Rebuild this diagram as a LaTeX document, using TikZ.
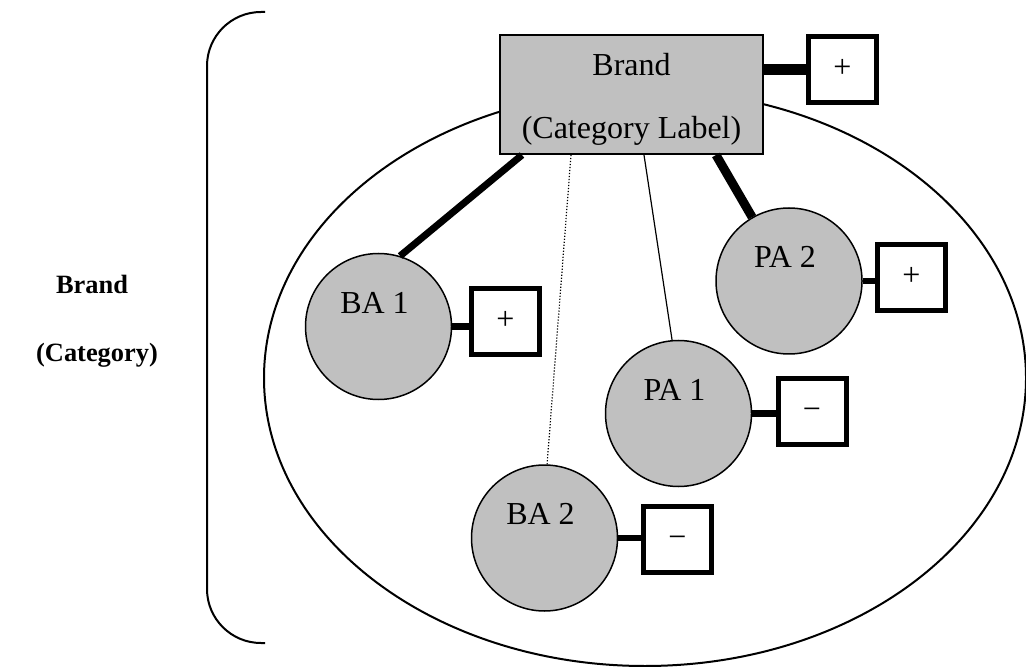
\documentclass[tikz,border=0pt]{standalone}
\usepackage{fontspec}
\setmainfont{Liberation Serif}
\usepackage{tikz}
\usetikzlibrary{calc}
\definecolor{silv}{HTML}{C0C0C0}

\begin{document}
\begin{tikzpicture}[x=0.5pt,y=-0.5pt,
  attr/.style={circle,draw,line width=0.75pt,fill=silv,minimum size=73pt,inner sep=0pt},
  sgnbox/.style={rectangle,draw,line width=2.5pt,fill=white,minimum width=34pt,minimum height=33pt,
    inner sep=0pt,text height=8pt,text depth=0pt},
  tie/.style={line width=3.25pt},
  txt/.style={font=\fontsize{16}{31.5}\selectfont},
  side/.style={font=\fontsize{13.2}{16}\selectfont\bfseries}]
\useasboundingbox (0,0) rectangle (1026,667);
% bracket with its label
\draw[line width=1pt,rounded corners=27pt] (265,12) -- (207,12) -- (207,643) -- (265,643);
\node[side] (bname) at (92,284.5) {Brand};
\node[side] (bcat) at (97,355) {(Category)};
% category
\draw[line width=1pt] (645,378) ellipse [x radius=190.5pt, y radius=144pt];
\node[rectangle,draw,line width=1pt,fill=silv,minimum width=131.5pt,minimum height=59.5pt,
  label={[txt,align=center,yshift=-2.25pt]center:Brand\\(Category Label)}] (brand) at (631.5,94.5) {};
% associations
\node[attr,label={[txt,xshift=-2pt,yshift=12pt]center:BA 1}] (ba1) at (378.5,326.5) {};
\node[attr,label={[txt,xshift=-2pt,yshift=12pt]center:PA 1}] (pa1) at (678.5,413.5) {};
\node[attr,label={[txt,xshift=-2pt,yshift=12pt]center:BA 2}] (ba2) at (544.5,538) {};
\node[attr,label={[txt,xshift=-2pt,yshift=12pt]center:PA 2}] (pa2) at (789,281) {};
% signs
\node[sgnbox,txt] (sgnbr) at (842.5,69.5) {+};
\node[sgnbox,txt] (sgnba1) at (505.5,322) {+};
\node[sgnbox,txt] (sgnpa1) at (812,411.5) {−};
\node[sgnbox,txt] (sgnba2) at (677.5,539.5) {−};
\node[sgnbox,txt] (sgnpa2) at (911.5,277.5) {+};
% links of different strength
\draw[line width=3.5pt] ($(brand.south west)+(23,0)$) -- (ba1.73);
\draw[line width=0.6pt,dash pattern=on 0.6pt off 0.9pt] ($(brand.south west)+(72,0)$) -- (ba2.88);
\draw[line width=0.6pt] ($(brand.south west)+(145,0)$) -- (pa1.95);
\draw[line width=4.5pt] ($(brand.south west)+(217,0)$) -- (pa2.120);
\draw[line width=5.5pt] (brand.east |- sgnbr.west) -- (sgnbr.west);
\draw[tie] (ba1.east) -- (ba1.east -| sgnba1.west);
\draw[tie] (pa1.east) -- (pa1.east -| sgnpa1.west);
\draw[tie] (ba2.east) -- (ba2.east -| sgnba2.west);
\draw[tie] (pa2.east) -- (pa2.east -| sgnpa2.west);
\end{tikzpicture}
\end{document}
